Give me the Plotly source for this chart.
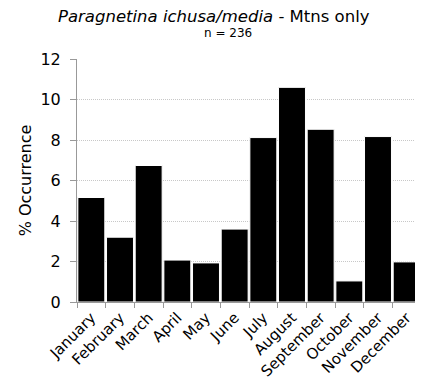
import plotly.graph_objects as go

months = ["January", "February", "March", "April", "May", "June", "July",
          "August", "September", "October", "November", "December"]
occurrence = [5.16, 3.20, 6.74, 2.07, 1.93, 3.60, 8.12, 10.6, 8.53, 1.04, 8.17, 1.98]

fnt = "DejaVu Sans, Verdana, sans-serif"

fig = go.Figure(go.Bar(
    x=months, y=occurrence,
    marker=dict(color="black", line=dict(color="white", width=1)),
))

# page body keeps its default 8px margin, so the figure is 8px smaller
fig.update_layout(
    width=415, height=380,
    margin=dict(l=69, r=2, t=51, b=86),
    paper_bgcolor="white", plot_bgcolor="white",
    bargap=0.06,
    showlegend=False,
    font=dict(family=fnt, color="black", size=15),
)

# title + sample size, placed against the plot area
fig.add_annotation(text="<i>Paragnetina ichusa/media</i> - Mtns only",
                   x=0.397, y=1.173, xref="paper", yref="paper",
                   xanchor="center", yanchor="middle", showarrow=False,
                   font=dict(size=16.5))
fig.add_annotation(text="n = 236", x=0.44, y=1.107, xref="paper", yref="paper",
                   xanchor="center", yanchor="middle", showarrow=False,
                   font=dict(size=12))

fig.update_xaxes(
    tickangle=-45, ticks="outside", tickson="boundaries", ticklen=5,
    tickcolor="#999", showline=True, linecolor="#999", linewidth=1,
    showgrid=False, tickfont=dict(size=15), automargin=False,
)
fig.update_yaxes(
    range=[0, 12], dtick=2, ticks="outside", ticklen=6, tickcolor="#999",
    showline=True, linecolor="#999", linewidth=1, ticklabelstandoff=6,
    showgrid=True, gridcolor="#c8c8c8", griddash="1px,1px", gridwidth=1,
    tickfont=dict(size=16), zeroline=False, automargin=False,
    title=dict(text="% Occurrence", font=dict(size=16), standoff=4),
)

fig.write_html("out.html")
